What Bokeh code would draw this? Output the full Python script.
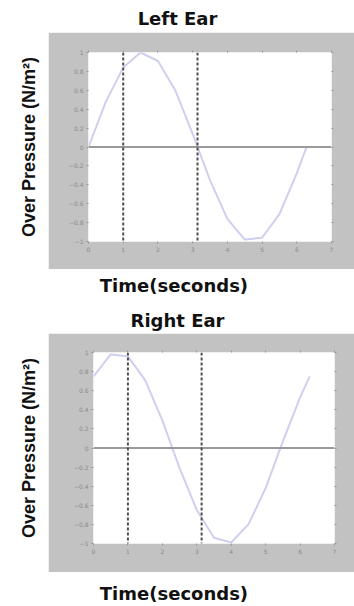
from bokeh.plotting import figure
from bokeh.models import Span, LinearAxis, Range1d, FixedTicker, Label
from bokeh.layouts import column, row
from bokeh.embed import file_html
from bokeh.resources import INLINE
import math

# ---- data ----
time_s = [0.0, 0.5, 1.0, 1.5, 2.0, 2.5, 3.0, 3.5, 4.0, 4.5, 5.0, 5.5, 6.0, 6.28]
left_ear = [0.0, 0.48, 0.84, 1.0, 0.91, 0.6, 0.14, -0.35, -0.76, -0.98, -0.96, -0.71, -0.28, 0.0]
right_ear = [0.75, 0.98, 0.96, 0.71, 0.29, -0.21, -0.65, -0.94, -0.99, -0.80, -0.42, 0.07, 0.53, 0.75]
markers = [1.0, 3.14]
x_ticks = [0, 1, 2, 3, 4, 5, 6, 7]
y_ticks = [-1, -0.8, -0.6, -0.4, -0.2, 0, 0.2, 0.4, 0.6, 0.8, 1]

FONT = "DejaVu Sans"
YFONT = "Liberation Sans"
GRAY = "#c2c2c2"


def text_fig(w, h, txt, x, y, size, angle=0.0, font=FONT):
    f = figure(width=w, height=h, output_backend="svg", toolbar_location=None,
               x_range=Range1d(0, 1), y_range=Range1d(0, 1),
               x_axis_type=None, y_axis_type=None,
               min_border=0, min_border_left=0, min_border_right=0,
               min_border_top=0, min_border_bottom=0)
    f.outline_line_color = None
    f.grid.visible = False
    f.border_fill_color = "white"
    f.background_fill_color = "white"
    f.add_layout(Label(x=x, y=y, text=txt, text_align="center", text_baseline="middle",
                       angle=angle, text_font=font, text_font_style="bold",
                       text_font_size=size, text_color="#111111"))
    return f


def main_fig(y, h, mb):
    p = figure(width=306, height=h, output_backend="svg", toolbar_location=None,
               x_range=Range1d(0, 7), y_range=Range1d(-1, 1),
               min_border_left=mb[0], min_border_right=mb[1],
               min_border_top=mb[2], min_border_bottom=mb[3])
    p.border_fill_color = GRAY
    p.background_fill_color = "white"
    p.outline_line_color = None
    p.grid.visible = False

    p.line(time_s, y, line_color="#cfcfee", line_width=2)
    p.add_layout(Span(location=0, dimension="width", line_color="#9a9a9a", line_width=2))
    for m in markers:
        p.add_layout(Span(location=m, dimension="height", line_color="#4f4f4f",
                          line_width=2, line_dash="3 2"))

    for ax in (p.xaxis[0], p.yaxis[0]):
        ax.axis_line_color = None
        ax.major_tick_line_color = "#999999"
        ax.major_tick_in = 0
        ax.major_tick_out = 2
        ax.minor_tick_line_color = None
        ax.major_label_text_font_size = "6px"
        ax.major_label_text_color = "#8a8a8a"
        ax.major_label_standoff = 3
        ax.major_label_text_font = FONT
    p.xaxis[0].ticker = FixedTicker(ticks=x_ticks)
    p.yaxis[0].ticker = FixedTicker(ticks=y_ticks)

    for loc, ticks in (("above", x_ticks), ("right", y_ticks)):
        ax = LinearAxis(ticker=FixedTicker(ticks=ticks))
        ax.axis_line_color = None
        ax.major_tick_line_color = "#999999"
        ax.major_tick_in = 0
        ax.major_tick_out = 2
        ax.minor_tick_line_color = None
        ax.major_label_text_font_size = "0px"
        ax.major_label_text_color = None
        p.add_layout(ax, loc)
    return p


def panel(title, y, h_title, h_main, h_xlab, mb, t_y, x_y, y_y):
    t = text_fig(354, h_title, title, 0.5, t_y, "18px")
    yl = text_fig(48, h_main, "Over Pressure (N/m²)", 0.6, y_y, "18px",
                  angle=math.pi / 2, font=YFONT)
    m = main_fig(y, h_main, mb)
    xl = text_fig(354, h_xlab, "Time(seconds)", 0.49, x_y, "18px")
    return column(t, row(yl, m, spacing=0), xl, spacing=0)


top = panel("Left Ear", left_ear, 32, 237, 31, (40, 23, 20, 28), 0.44, 0.48, 0.5)
bottom = panel("Right Ear", right_ear, 33, 239, 34, (45, 20, 19, 29), 0.39, 0.38, 0.5)

layout = column(top, bottom, spacing=0)
open("out.html", "w").write(file_html(layout, INLINE))
